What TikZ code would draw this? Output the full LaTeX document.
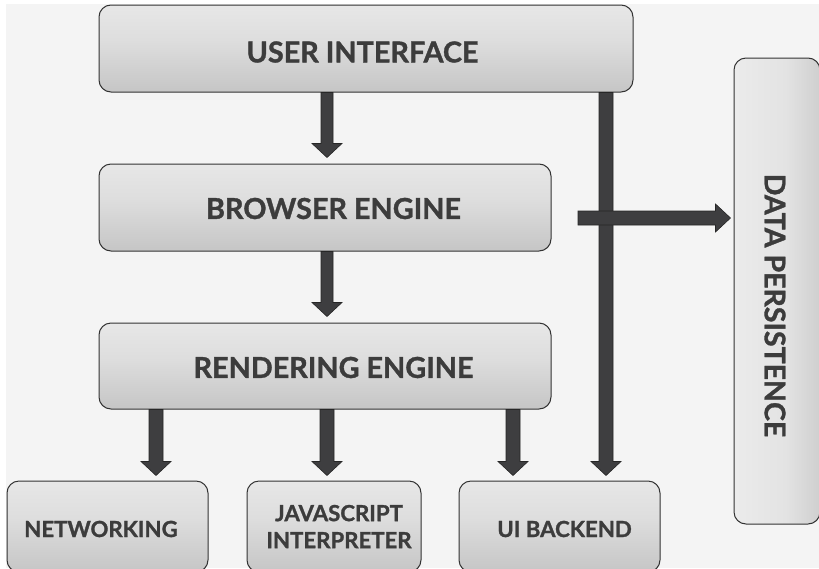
\documentclass[tikz,border=0pt]{standalone}
\usepackage{fontspec}
\setmainfont{Lato}[BoldFeatures={FakeBold=1.2}]
\usetikzlibrary{calc}
\definecolor{bgc}{HTML}{F4F4F4}
\definecolor{txt}{HTML}{3C3C3C}
\definecolor{arr}{HTML}{3E3E40}
\definecolor{edge}{HTML}{333333}
\pgfdeclareverticalshading{boxv}{100bp}{color(0bp)=(black!18); color(14bp)=(black!26); color(55bp)=(black!13); color(100bp)=(black!5)}
\pgfdeclarehorizontalshading{boxh}{100bp}{color(0bp)=(black!5); color(55bp)=(black!11); color(88bp)=(black!24); color(100bp)=(black!17)}
\tikzset{
  box/.style={draw=edge, line width=1pt, rounded corners=12pt, shading=boxv, inner sep=0pt},
  bigtext/.style={text=txt, font=\fontsize{28.8}{32}\selectfont\bfseries, inner sep=0pt},
  smalltext/.style={text=txt, font=\fontsize{22.2}{27}\selectfont\bfseries, inner sep=0pt, align=center},
  fat/.style={fill=arr, draw=black!85, line width=0.6pt, line join=miter}
}
\newcommand\fatdown[4]{%
  \filldraw[fat] let \p1=(#1), \p2=(#2) in
    (\x2-#3,\y1) -- (\x2-#3,\y2+14pt) -- (\x2-#4,\y2+14pt) -- (\x2,\y2)
    -- (\x2+#4,\y2+14pt) -- (\x2+#3,\y2+14pt) -- (\x2+#3,\y1) -- cycle;}
\begin{document}
\begin{tikzpicture}[x=1pt,y=-1pt]
\clip (0,0) rectangle (819,568);
\fill[white] (0,0) rectangle (819,568);
\fill[bgc] (6,4) rectangle (819,568);

\node[box, minimum width=534pt, minimum height=87pt] (ui) at (366,48.5) {};
\node[box, minimum width=452pt, minimum height=87pt] (be) at (325,207.5) {};
\node[box, minimum width=452pt, minimum height=86pt] (re) at (325,366) {};
\node[box, minimum width=201pt, minimum height=91pt] (nw) at (107.5,526.5) {};
\node[box, minimum width=174pt, minimum height=91pt] (js) at (334,526.5) {};
\node[box, minimum width=201pt, minimum height=91pt] (uib) at (559.5,526.5) {};
\node[box, shading=boxh, minimum width=86pt, minimum height=466pt] (dp) at (777,291) {};

\node[bigtext] (uit) at (362.5,52) {USER INTERFACE};
\node[bigtext] (bet) at (333.5,208.5) {BROWSER ENGINE};
\node[bigtext] (ret) at (333.5,367.5) {RENDERING ENGINE};
\node[smalltext] (nwt) at (101,529) {NETWORKING};
\node[smalltext] (jst) at (339,526.5) {JAVASCRIPT\\INTERPRETER};
\node[smalltext] (uibt) at (564.5,529) {UI BACKEND};
\node[text=txt, font=\fontsize{28.5}{34}\selectfont\bfseries, rotate=-90, inner sep=0pt] (dpt) at (775,305.5) {DATA PERSISTENCE};

\coordinate (hs) at (578,218);

\fatdown{ui.south}{[xshift=2pt,yshift=6pt]be.north}{6pt}{15pt}
\fatdown{be.south}{[xshift=2pt,yshift=6pt]re.north}{6pt}{15pt}
\fatdown{re.south}{[xshift=48.5pt,yshift=5pt]nw.north}{7pt}{15pt}
\fatdown{re.south}{[xshift=-7pt,yshift=5pt]js.north}{7pt}{15pt}
\fatdown{re.south}{[xshift=-46.5pt,yshift=5pt]uib.north}{7pt}{15pt}
\fatdown{ui.south}{[xshift=46.5pt,yshift=5pt]uib.north}{7pt}{15pt}

\filldraw[fat] let \p1=(hs), \p2=([xshift=-3pt,yshift=73pt]dp.west) in
  (\x1,\y2-7pt) -- (\x2-15pt,\y2-7pt) -- (\x2-15pt,\y2-14pt) -- (\x2,\y2)
  -- (\x2-15pt,\y2+14pt) -- (\x2-15pt,\y2+7pt) -- (\x1,\y2+7pt) -- cycle;
\end{tikzpicture}
\end{document}
